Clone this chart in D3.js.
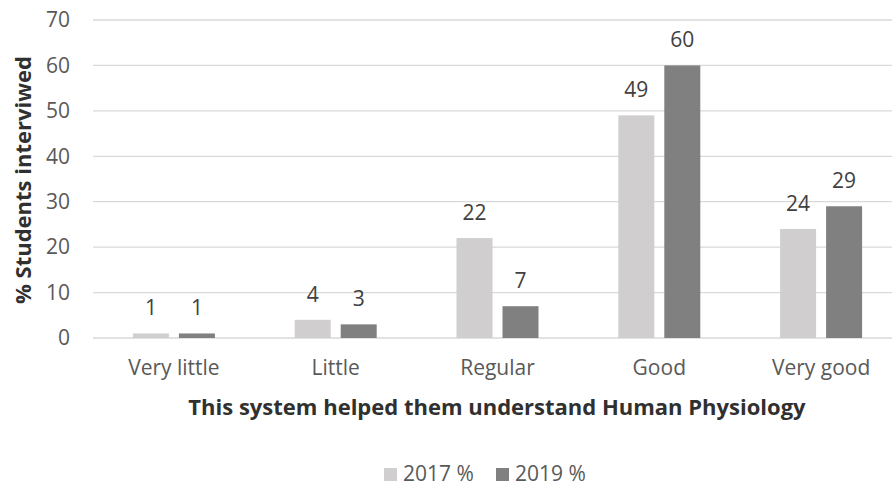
<!DOCTYPE html>
<html>
<head>
<meta charset="utf-8">
<script src="https://cdn.jsdelivr.net/npm/d3@7/dist/d3.min.js"></script>
<style>
  body { margin: 0; background: #fff; }
  svg { display: block; font-family: "Open Sans", sans-serif; }
</style>
</head>
<body>
<div id="chart"></div>
<script>
// chart data
const categories = ['Very little', 'Little', 'Regular', 'Good', 'Very good'];
const series = ['2017 %', '2019 %'];
const values2017 = [1, 4, 22, 49, 24];
const values2019 = [1, 3, 7, 60, 29];
const yTicks = [0, 10, 20, 30, 40, 50, 60, 70];
const colors = ['#d0cece', '#808080'];

const width = 892, height = 487;
const margin = { top: 20, left: 93, bottom: 149 };
const plotRight = 902;
const labelSize = 21;

const svg = d3.select('#chart').append('svg')
    .attr('width', width)
    .attr('height', height);

const x = d3.scaleBand()
    .domain(categories)
    .range([margin.left, plotRight]);

const y = d3.scaleLinear()
    .domain([0, 70])
    .range([height - margin.bottom, margin.top]);

// gridlines
svg.append('g').selectAll('line')
    .data(yTicks)
    .enter().append('line')
    .attr('x1', margin.left)
    .attr('x2', plotRight)
    .attr('y1', d => y(d))
    .attr('y2', d => y(d))
    .attr('stroke', '#d9d9d9')
    .attr('stroke-width', 1.3);

// y tick labels
svg.append('g').selectAll('text')
    .data(yTicks)
    .enter().append('text')
    .attr('x', 70)
    .attr('y', d => y(d))
    .attr('dy', '0.35em')
    .attr('text-anchor', 'end')
    .attr('fill', '#595959')
    .attr('font-size', labelSize)
    .text(d => d);

const barW = 36, barGap = 10;
const rows = categories.map((c, i) => ({ cat: c, vals: [values2017[i], values2019[i]] }));

rows.forEach(row => {
    const cx = x(row.cat) + x.bandwidth() / 2;
    row.vals.forEach((v, j) => {
        const bx = j === 0 ? cx - barGap / 2 - barW : cx + barGap / 2;
        svg.append('rect')
            .attr('x', bx)
            .attr('y', y(v))
            .attr('width', barW)
            .attr('height', y(0) - y(v))
            .attr('fill', colors[j]);
        svg.append('text')
            .attr('x', bx + barW / 2)
            .attr('y', y(v) - 18)
            .attr('text-anchor', 'middle')
            .attr('fill', '#404040')
            .attr('font-size', labelSize)
            .text(v);
    });
});

// category labels
svg.append('g').selectAll('text')
    .data(categories)
    .enter().append('text')
    .attr('x', d => x(d) + x.bandwidth() / 2)
    .attr('y', 375)
    .attr('text-anchor', 'middle')
    .attr('fill', '#595959')
    .attr('font-size', labelSize)
    .text(d => d);

// axis titles
svg.append('text')
    .attr('x', 497)
    .attr('y', 415)
    .attr('text-anchor', 'middle')
    .attr('fill', '#303030')
    .attr('font-size', 22)
    .attr('font-weight', 'bold')
    .text('This system helped them understand Human Physiology');

svg.append('text')
    .attr('transform', 'translate(31,180) rotate(-90)')
    .attr('text-anchor', 'middle')
    .attr('fill', '#303030')
    .attr('font-size', 22)
    .attr('font-weight', 'bold')
    .text('% Students interviwed');

// legend
const legend = svg.append('g');
const legendX = [384, 496];
series.forEach((s, i) => {
    legend.append('rect')
        .attr('x', legendX[i])
        .attr('y', 468)
        .attr('width', 13)
        .attr('height', 13)
        .attr('fill', colors[i]);
    legend.append('text')
        .attr('x', legendX[i] + 19)
        .attr('y', 481)
        .attr('fill', '#595959')
        .attr('font-size', labelSize)
        .text(s);
});
</script>
</body>
</html>
